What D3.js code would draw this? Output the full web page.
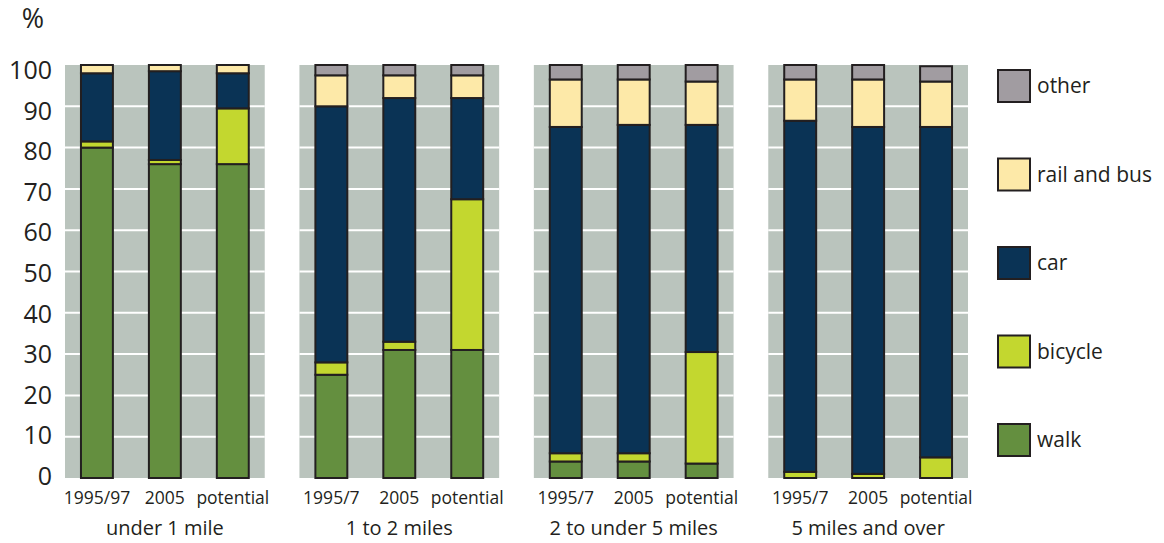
<!DOCTYPE html>
<html>
<head>
<meta charset="utf-8">
<script src="https://cdn.jsdelivr.net/npm/d3@7"></script>
<style>
  html, body { margin: 0; padding: 0; background: #ffffff; }
  svg { display: block; }
  text { font-family: "Open Sans", "DejaVu Sans", sans-serif; fill: #231f20; }
</style>
</head>
<body>
<svg id="chart" width="1164" height="543"></svg>
<script>
// Distance bands and the survey periods shown under each one
const groups = ["under 1 mile", "1 to 2 miles", "2 to under 5 miles", "5 miles and over"];
const periods = [
  ["1995/97", "2005", "potential"],
  ["1995/7", "2005", "potential"],
  ["1995/7", "2005", "potential"],
  ["1995/7", "2005", "potential"]
];

// Mode share (%) per band, one row per band, one value per period
const walk    = [[80, 76, 76],       [25, 31, 31],       [4, 4, 3.5],        [0, 0, 0]];
const bicycle = [[1.5, 1, 13.5],     [3, 2, 36.5],       [2, 2, 27],         [1.5, 1, 5]];
const car     = [[16.5, 21.5, 8.5],  [62, 59, 24.5],     [79, 79.5, 55],     [85, 84, 80]];
const railBus = [[2, 1.5, 2],        [7.5, 5.5, 5.5],    [11.5, 11, 10.5],   [10, 11.5, 11]];
const other   = [[0, 0, 0],          [2.5, 2.5, 2.5],    [3.5, 3.5, 4],      [3.5, 3.5, 3.7]];

const modes = ["walk", "bicycle", "car", "rail and bus", "other"];
const modeValues = [walk, bicycle, car, railBus, other];
const modeColors = ["#648f3f", "#c3d72f", "#0a3355", "#fde9a8", "#a19ca1"];

const yTicks = [0, 10, 20, 30, 40, 50, 60, 70, 80, 90, 100];

const svg = d3.select("#chart");

const y = d3.scaleLinear().domain([0, 100]).range([478, 65]);
// tick labels sit on a slightly tighter scale than the gridlines
const yLabel = y.copy().range([476, 70]);
const panelX = d3.scaleBand().domain(groups).range([65, 968]).paddingInner(0.148);
const color = d3.scaleOrdinal().domain(modes).range(modeColors);

// Y axis labels and unit
svg.append("text")
  .attr("x", 33).attr("y", 19)
  .attr("dy", "0.35em")
  .attr("text-anchor", "middle")
  .style("font-size", "27px")
  .text("%");

svg.append("g")
  .selectAll("text")
  .data(yTicks)
  .join("text")
  .attr("x", 52)
  .attr("y", d => yLabel(d))
  .attr("dy", "0.36em")
  .attr("text-anchor", "end")
  .style("font-size", "25px")
  .text(d => d);

groups.forEach((g, gi) => {
  const x0 = panelX(g);
  const w = panelX.bandwidth();
  const panel = svg.append("g").attr("transform", `translate(${x0},0)`);

  // Panel background
  panel.append("rect")
    .attr("x", 0).attr("y", y(100))
    .attr("width", w).attr("height", y(0) - y(100))
    .attr("fill", "#bac4bd");

  // Horizontal gridlines
  panel.append("g")
    .selectAll("line")
    .data(yTicks.filter(t => t > 0 && t < 100))
    .join("line")
    .attr("x1", 0).attr("x2", w)
    .attr("y1", d => y(d)).attr("y2", d => y(d))
    .attr("stroke", "#ffffff")
    .attr("stroke-width", 2);

  const x = d3.scaleBand().domain(periods[gi]).range([0, w]).paddingInner(0.53).paddingOuter(0.235);

  // Stacked segments for each period
  const rows = periods[gi].map((p, pi) => {
    const row = { period: p };
    modes.forEach((m, mi) => { row[m] = modeValues[mi][gi][pi]; });
    return row;
  });
  const series = d3.stack().keys(modes)(rows);

  panel.append("g")
    .selectAll("g")
    .data(series)
    .join("g")
    .attr("fill", d => color(d.key))
    .selectAll("rect")
    .data(d => d.filter(s => s[1] - s[0] > 0))
    .join("rect")
    .attr("x", d => x(d.data.period))
    .attr("width", x.bandwidth())
    .attr("y", d => y(d[1]))
    .attr("height", d => y(d[0]) - y(d[1]))
    .attr("stroke", "#231f20")
    .attr("stroke-width", 2);

  // Period labels
  panel.append("g")
    .selectAll("text")
    .data(periods[gi])
    .join("text")
    .attr("x", d => x(d) + x.bandwidth() / 2)
    .attr("y", 504)
    .attr("text-anchor", "middle")
    .style("font-size", "17.5px")
    .text(d => d);

  // Band label
  panel.append("text")
    .attr("x", w / 2)
    .attr("y", 535)
    .attr("text-anchor", "middle")
    .style("font-size", "20px")
    .text(g);
});

// Legend, listed top to bottom from the top of the stack
const legend = svg.append("g");
const legendY = d3.scalePoint().domain(modes.slice().reverse()).range([86, 440]);
const items = legend.selectAll("g")
  .data(modes.slice().reverse())
  .join("g")
  .attr("transform", d => `translate(998,${legendY(d)})`);

items.append("rect")
  .attr("x", 0).attr("y", -16)
  .attr("width", 32).attr("height", 32)
  .attr("fill", d => color(d))
  .attr("stroke", "#231f20")
  .attr("stroke-width", 2);

items.append("text")
  .attr("x", 39).attr("y", 0)
  .attr("dy", "0.35em")
  .style("font-size", "21px")
  .text(d => d);
</script>
</body>
</html>
